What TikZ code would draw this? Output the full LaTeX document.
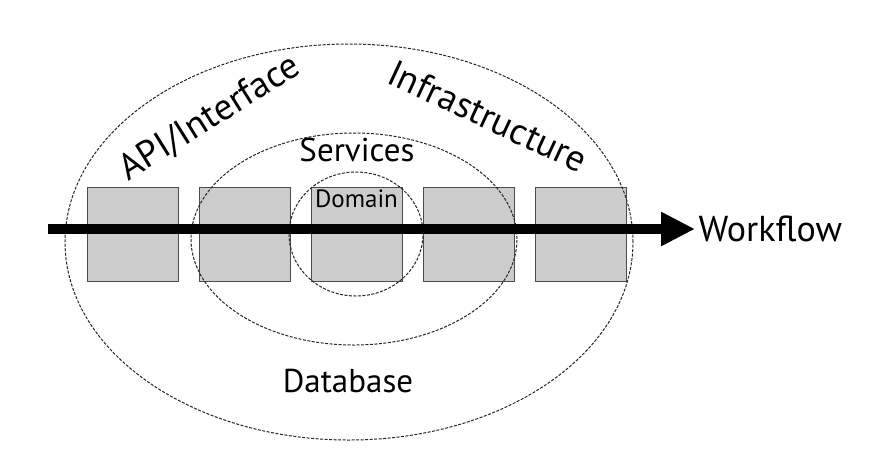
\documentclass[tikz,border=0pt]{standalone}
\usepackage{fontspec}
\setmainfont{PT Sans}
\usetikzlibrary{arrows.meta,shapes.geometric,positioning}

\begin{document}
\begin{tikzpicture}[x=1pt,y=-1pt,
    layer/.style={draw=black!85,ellipse,dash pattern=on 3pt off 1.5pt,line width=1pt,inner sep=0pt},
    stage/.style={draw=black!70,fill=black!20,line width=1pt,minimum width=91pt,minimum height=94pt,inner sep=0pt},
    lbl/.style={font=\fontsize{33}{33}\selectfont}]
  \useasboundingbox (0,0) rectangle (890,456);
  \node[stage] (b1) at (132.5,234) {};
  \node[stage,right=20pt of b1] (b2) {};
  \node[stage,right=20pt of b2] (b3) {};
  \node[stage,right=20pt of b3] (b4) {};
  \node[stage,right=20pt of b4] (b5) {};
  \node[layer,minimum width=568pt,minimum height=396pt] (outer) at (349,242) {};
  \node[layer,minimum width=326pt,minimum height=212pt] (middle) at (354,239) {};
  \node[layer,minimum width=134pt,minimum height=124pt] (inner) at (356,234) {};
  \node[font=\fontsize{25}{25}\selectfont,below=0pt of b3.north] (domain) {Domain};
  \coordinate (wfstart) at (48,229);
  \coordinate (wfend) at (695,229);
  \draw[line width=10pt,-{Triangle[length=34pt,width=32pt]}] (wfstart) -- (wfend);
  \node[lbl,font=\fontsize{36}{36}\selectfont,anchor=west] (workflow) at (wfend) {Workflow};
  \node[lbl] (services) at (357,150) {Services};
  \node[lbl] (database) at (348,381) {Database};
  \node[lbl,font=\fontsize{37}{37}\selectfont,rotate=32] (api) at (210,118) {API/Interface};
  \node[lbl,font=\fontsize{37}{37}\selectfont,rotate=-25] (infra) at (488,116) {Infrastructure};
\end{tikzpicture}
\end{document}
